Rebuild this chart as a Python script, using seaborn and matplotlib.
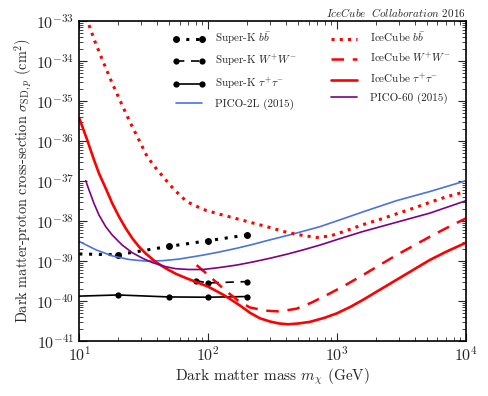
import numpy as np
import matplotlib
matplotlib.use("Agg")
import matplotlib.pyplot as plt
import seaborn as sns

# Super-K points: mass (GeV) and limit (cm^2)
sk_mass = [10, 20, 50, 100, 200]
sk_bb = [1.47e-39, 1.41e-39, 2.29e-39, 3.16e-39, 4.4e-39]
sk_tau = [1.3e-40, 1.39e-40, 1.24e-40, 1.22e-40, 1.27e-40]
sk_ww_mass = [80, 100, 200]
sk_ww = [3.16e-40, 2.78e-40, 3.0e-40]

# curves as log10(mass / GeV) and log10(sigma / cm^2)
ic_bb_logm = [1.075, 1.127, 1.191, 1.256, 1.321, 1.385, 1.45, 1.527, 1.59, 1.66, 1.735, 1.832, 1.961,
              2.09, 2.22, 2.349, 2.478, 2.608, 2.736, 2.84, 2.95, 3.07, 3.2, 3.33, 3.46, 3.59, 3.72, 3.85, 4.0]
ic_bb_logs = [-33.11, -33.57, -34.07, -34.57, -35.03, -35.48, -35.9, -36.4, -36.67, -36.94, -37.22, -37.52, -37.72,
              -37.84, -37.95, -38.06, -38.17, -38.29, -38.37, -38.42, -38.38, -38.25, -38.1, -37.97, -37.83, -37.69,
              -37.54, -37.4, -37.27]
ic_ww_logm = [1.91, 2.0, 2.143, 2.233, 2.323, 2.45, 2.556, 2.685, 2.8, 2.943, 3.07, 3.2, 3.33, 3.46, 3.59, 3.72, 3.85, 4.0]
ic_ww_logs = [-39.11, -39.36, -39.77, -40.0, -40.17, -40.25, -40.27, -40.2, -40.05, -39.82, -39.6, -39.36, -39.11,
              -38.86, -38.63, -38.4, -38.18, -37.94]
ic_tau_logm = [1.0, 1.06, 1.114, 1.153, 1.205, 1.256, 1.308, 1.36, 1.411, 1.463, 1.515, 1.592, 1.67, 1.75, 1.832,
               1.92, 2.0, 2.116, 2.19, 2.246, 2.323, 2.401, 2.478, 2.55, 2.62, 2.7, 2.788, 2.9, 2.995, 3.1, 3.2,
               3.33, 3.46, 3.59, 3.72, 3.85, 4.0]
ic_tau_logs = [-35.44, -35.97, -36.48, -36.82, -37.19, -37.57, -37.9, -38.19, -38.44, -38.65, -38.82, -39.03,
               -39.19, -39.33, -39.44, -39.55, -39.65, -39.85, -40.0, -40.12, -40.3, -40.44, -40.52, -40.57,
               -40.59, -40.57, -40.53, -40.43, -40.32, -40.16, -39.98, -39.73, -39.48, -39.23, -38.98, -38.77,
               -38.55]
pico2l_logm = [1.0, 1.13, 1.256, 1.385, 1.517, 1.646, 1.773, 1.961, 2.09, 2.22, 2.349, 2.478, 2.65, 2.866,
               3.03, 3.2, 3.46, 3.72, 4.0]
pico2l_logs = [-38.52, -38.73, -38.88, -38.97, -39.01, -39.0, -38.96, -38.86, -38.78, -38.69, -38.59, -38.48,
               -38.34, -38.15, -37.97, -37.78, -37.5, -37.27, -37.0]
pico60_logm = [1.05, 1.075, 1.114, 1.153, 1.205, 1.256, 1.333, 1.411, 1.491, 1.569, 1.67, 1.747, 1.85, 1.961,
               2.09, 2.22, 2.349, 2.478, 2.608, 2.736, 2.866, 3.03, 3.2, 3.46, 3.72, 4.0]
pico60_logs = [-37.0, -37.23, -37.57, -37.86, -38.15, -38.36, -38.61, -38.8, -38.94, -39.05, -39.15, -39.2, -39.22,
               -39.22, -39.17, -39.11, -39.03, -38.94, -38.84, -38.73, -38.61, -38.44, -38.27, -38.04, -37.81, -37.5]

y_ticks = [1e-41, 1e-40, 1e-39, 1e-38, 1e-37, 1e-36, 1e-35, 1e-34, 1e-33]
x_ticks = [1e1, 1e2, 1e3, 1e4]

sns.set_theme(style="ticks")
plt.rcParams["font.family"] = ["cmr10", "DejaVu Serif"]
plt.rcParams["mathtext.fontset"] = "cm"
plt.rcParams["axes.formatter.use_mathtext"] = True
plt.rcParams["axes.unicode_minus"] = False

fig = plt.figure(figsize=(4.88, 3.96), dpi=100)
ax = fig.add_axes([0.1625, 0.1397, 0.7925, 0.808])


def curve(logm, logs, **kw):
    m = np.power(10.0, logm)
    s = np.power(10.0, logs)
    sns.lineplot(x=m, y=s, ax=ax, sort=False, **kw)


sk_kw = dict(color="black", marker="o", markersize=4.5, markeredgewidth=0, linewidth=1.2)
sns.lineplot(x=sk_mass, y=sk_bb, ax=ax, linestyle=(0, (1, 2.2)), linewidth=2.2, color="black",
             marker="o", markersize=5, markeredgewidth=0, markevery=[1, 2, 3, 4], label=r"Super-K $b\bar{b}$")
sns.lineplot(x=sk_ww_mass, y=sk_ww, ax=ax, linestyle=(0, (5, 4)), label=r"Super-K $W^{+}W^{-}$", **sk_kw)
sns.lineplot(x=sk_mass, y=sk_tau, ax=ax, linestyle="-", markevery=[1, 2, 3, 4],
             label=r"Super-K $\tau^{+}\tau^{-}$", **sk_kw)
curve(pico2l_logm, pico2l_logs, color="#4a72e0", linewidth=1.2, label="PICO-2L (2015)")

curve(ic_bb_logm, ic_bb_logs, color="red", linewidth=2.2, linestyle=(0, (1, 1.7)), label=r"IceCube $b\bar{b}$")
curve(ic_ww_logm, ic_ww_logs, color="red", linewidth=1.8, linestyle=(0, (5, 3.5)), label=r"IceCube $W^{+}W^{-}$")
curve(ic_tau_logm, ic_tau_logs, color="red", linewidth=1.9, label=r"IceCube $\tau^{+}\tau^{-}$")
curve(pico60_logm, pico60_logs, color="purple", linewidth=1.2, label="PICO-60 (2015)")

ax.set_xscale("log")
ax.set_yscale("log")
ax.set_yticks(y_ticks)
ax.set_xticks(x_ticks)
ax.yaxis.set_minor_locator(matplotlib.ticker.LogLocator(base=10, subs=np.arange(2, 10), numticks=12))
ax.set_xlim(10, 1e4)
ax.set_ylim(1e-41, 1e-33)
ax.set_xlabel(r"Dark matter mass $m_{\chi}$ (GeV)", fontsize=11, labelpad=2)
ax.set_ylabel(r"Dark matter-proton cross-section $\sigma_{\mathrm{SD},p}$ (cm$^2$)", fontsize=10.3, labelpad=1)
ax.tick_params(which="both", direction="in", top=True, right=True, labelsize=11.5)
ax.tick_params(which="major", length=6, width=0.8)
ax.tick_params(which="minor", length=3, width=0.6)
for s in ax.spines.values():
    s.set_linewidth(1.2)
    s.set_color("black")

ax.legend(ncol=2, loc="upper left", bbox_to_anchor=(0.215, 1.0), frameon=False, fontsize=8,
          handlelength=3, numpoints=2, columnspacing=2.8, labelspacing=0.6)
ax.text(1.0, 1.005, r"$IceCube\ \ Collaboration$ 2016", transform=ax.transAxes,
        ha="right", va="bottom", fontsize=8)

fig.savefig("out.png", dpi=100)
